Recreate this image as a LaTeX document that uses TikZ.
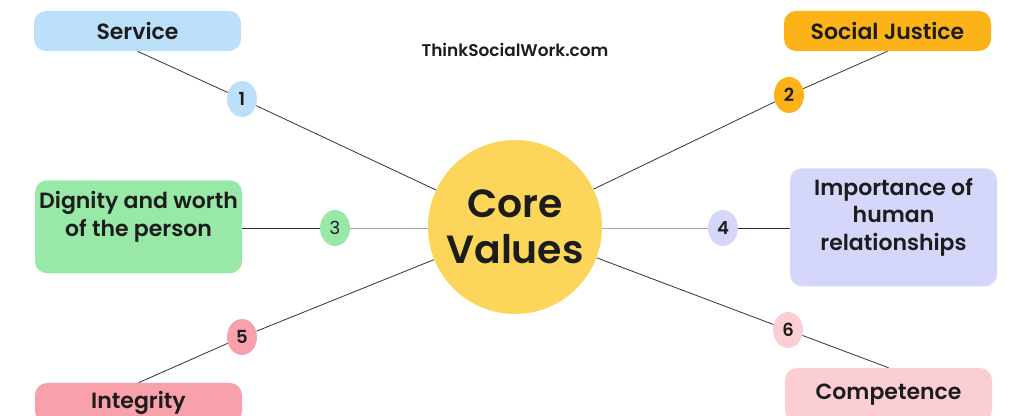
\documentclass[tikz,border=0pt]{standalone}
\usepackage{fontspec}
\setmainfont{Poppins}[BoldFont={Poppins SemiBold}]
\usetikzlibrary{shapes.geometric}
\definecolor{amarillo}{HTML}{FBD65A}
\definecolor{azul}{HTML}{BDE0FA}
\definecolor{naranja}{HTML}{FBB318}
\definecolor{verde}{HTML}{98E8A8}
\definecolor{lila}{HTML}{D4D7FA}
\definecolor{rosa}{HTML}{F8A1AA}
\definecolor{rosaclaro}{HTML}{FBCED3}
\definecolor{tinta}{HTML}{1C1C1C}
\definecolor{linea}{HTML}{333333}
\tikzset{
  caja/.style={rectangle,rounded corners=9pt,minimum width=155.25pt,
    minimum height=30pt,inner sep=0pt,align=center,text=tinta,
    font=\fontsize{16.5}{20.5}\selectfont\bfseries},
  num/.style={ellipse,minimum width=22.5pt,minimum height=27pt,inner sep=0pt,
    text=tinta,font=\fontsize{13.5}{14}\selectfont\bfseries},
  enlace/.style={draw=linea,line width=.6pt}
}
\begin{document}
\begin{tikzpicture}[x=.75pt,y=-.75pt]
\useasboundingbox (0,0) rectangle (1010,416);
\clip (0,0) rectangle (1010,416);
%
% centro
\node[circle,fill=amarillo,minimum size=130.5pt,inner sep=0pt,align=center,
  text=tinta,font=\fontsize{29.5}{34.5}\selectfont\bfseries] (core) at (515,227) {Core\\Values};
\node[text=tinta,font=\fontsize{12.7}{13}\selectfont\bfseries] (web) at (515,50) {ThinkSocialWork.com};
%
% cajas
\node[caja,fill=azul] (service) at (137.5,31) {Service};
\node[caja,fill=naranja] (justice) at (887.5,31) {Social Justice};
\node[caja,fill=verde,anchor=north,text height=42pt,text depth=27.75pt] (dignity) at (138.5,180)
  {Dignity and worth\\of the person};
\node[caja,fill=lila,anchor=north,text height=61.5pt,text depth=27pt] (human) at (893.5,168)
  {Importance of\\human\\relationships};
\node[caja,fill=rosa] (integrity) at (138.5,403) {Integrity};
\node[caja,fill=rosaclaro,minimum height=40.5pt] (competence) at (888.5,395) {Competence};
%
% numeros
\node[num,fill=azul] (n1) at (242,99) {1};
\node[num,fill=naranja] (n2) at (789,95) {2};
\node[num,fill=verde,font=\fontsize{13.5}{14}\selectfont] (n3) at (335,228) {3};
\node[num,fill=lila] (n4) at (723,228) {4};
\node[num,fill=rosa] (n5) at (242,337) {5};
\node[num,fill=rosaclaro] (n6) at (788,330) {6};
%
% enlaces
\draw[enlace] (service.south) -- (n1) -- (core);
\draw[enlace] (justice.south) -- (n2) -- (core);
\draw[enlace] (integrity.north) -- (n5) -- (core);
\draw[enlace] (competence.north) -- (n6) -- (core);
\draw[enlace] (dignity.east |- n3) -- (n3);
\draw[enlace,draw=gray!70] (n3) -- (n3 -| core.west);
\draw[enlace,draw=gray!70] (n4 -| core.east) -- (n4);
\draw[enlace] (n4) -- (human.west |- n4);
\end{tikzpicture}
\end{document}
